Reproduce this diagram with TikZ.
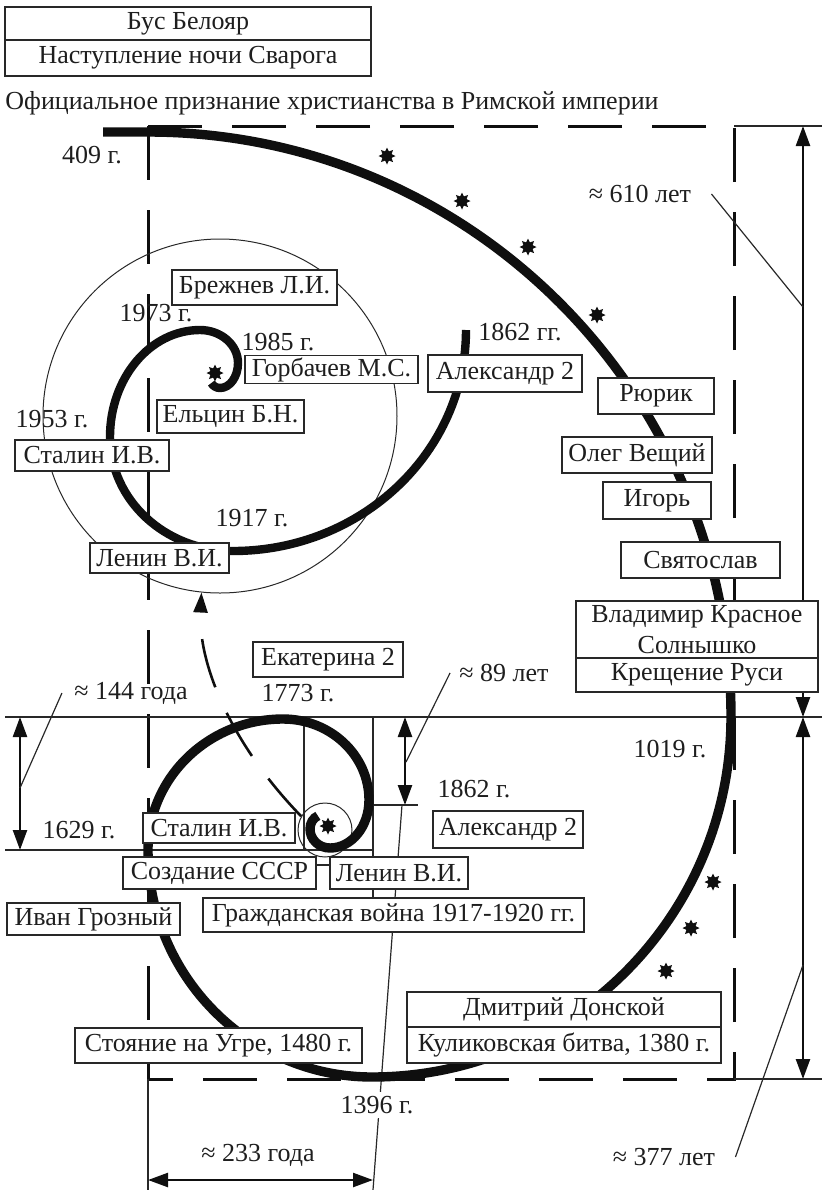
\documentclass[tikz,border=0pt]{standalone}
\usepackage{fontspec}
\setmainfont{Liberation Serif}
\usepackage{tikz}
\usetikzlibrary{
  shapes.geometric,
  arrows.meta
}
\definecolor{inkcolor}{RGB}{15, 15, 15}
\definecolor{textcolor}{RGB}{30, 30, 30}
\definecolor{guidecolor}{RGB}{40, 40, 40}
\tikzset{
labeltext/.style={
  font=\fontsize{13}{15.5}\selectfont,
  text=textcolor,
  inner sep=0pt,
  align=center
},
namebox/.style={
  draw=guidecolor,
  fill=white,
  line width=0.7pt,
  labeltext
},
spiral/.style={
  draw=inkcolor,
  line width=4.7pt
},
thinline/.style={
  draw=guidecolor,
  line width=0.6pt
},
frameline/.style={
  draw=inkcolor,
  line width=1.5pt,
  dash pattern=on 27pt off 15pt
},
dimarrow/.style={
  {Triangle[length=10pt,width=7pt]}-{Triangle[length=10pt,width=7pt]},
  draw=inkcolor,
  line width=1.2pt
},
dasharrow/.style={
  -{Triangle[length=10pt,width=7pt]},
  draw=inkcolor,
  line width=1.3pt,
  dash pattern=on 25pt off 14pt
},
starmark/.style={
  star,
  star points=8,
  star point ratio=1.7,
  fill=inkcolor,
  inner sep=0pt,
  minimum size=8.5pt
}
}

\begin{document}
\begin{tikzpicture}[x=0.5pt, y=-0.5pt]
  \useasboundingbox (0,0) rectangle (822,1190);

  \draw[frameline] (148,126) rectangle (734,1079);
  \draw[thinline] (734,126) -- (822,126);
  \draw[thinline] (734,1079) -- (822,1079);
  \draw[thinline] (5,717) -- (822,717);
  \draw[thinline] (5,850) -- (373,850);
  \draw[thinline] (304,717) -- (304,850);
  \draw[thinline] (373,717) -- (373,915);
  \draw[thinline] (373,805) -- (418,805);
  \draw[thinline] (148,1079) -- (148,1190);
  \draw[thinline] (402,805) -- (373,1190);

  \coordinate (t610) at (803,126);
  \coordinate (m610) at (803,717);
  \coordinate (b377) at (803,1079);
  \coordinate (t144) at (20,717);
  \coordinate (b144) at (20,850);
  \coordinate (t89) at (405,717);
  \coordinate (b89) at (405,805);
  \coordinate (l233) at (148,1180);
  \coordinate (r233) at (373,1180);
  \draw[dimarrow] (t610) -- (m610);
  \draw[dimarrow] (m610) -- (b377);
  \draw[dimarrow] (t144) -- (b144);
  \draw[dimarrow] (t89) -- (b89);
  \draw[dimarrow] (l233) -- (r233);

  \node[draw=guidecolor, line width=0.5pt, circle, minimum size=177pt, inner sep=0pt] (bigc) at (220,416) {};
  \node[draw=guidecolor, line width=0.5pt, circle, minimum size=27pt, inner sep=0pt] (smallc) at (325,830) {};

  \draw[spiral] (103,132) -- (148,132)
    arc[start angle=-90, end angle=0, x radius=583, y radius=585]
    arc[start angle=0, end angle=90, x radius=359, y radius=360]
    arc[start angle=90, end angle=180, x radius=224, y radius=227]
    arc[start angle=180, end angle=270, x radius=135, y radius=131]
    arc[start angle=270, end angle=360, x radius=86, y radius=81]
    arc[start angle=0, end angle=90, x radius=39, y radius=48]
    arc[start angle=90, end angle=180, x radius=20, y radius=19]
    arc[start angle=180, end angle=250, x radius=12, y radius=14];
  \draw[spiral, line width=4.2pt] (466,330)
    arc[start angle=0, end angle=90, x radius=233, y radius=221]
    arc[start angle=90, end angle=180, x radius=123, y radius=114]
    arc[start angle=180, end angle=270, x radius=90, y radius=107]
    arc[start angle=270, end angle=360, x radius=38, y radius=33]
    arc[start angle=0, end angle=90, x radius=18, y radius=25]
    arc[start angle=90, end angle=150, x radius=10, y radius=10];

  \draw[dasharrow] (smallc.150) .. controls (232,745) and (198,665) .. (bigc.-96);

  \foreach \p [count=\i] in {(387,156),(462,201),(528,247),(597,315),(713,882),(691,928),(666,971),(215,373),(328,826)}
    \node[starmark] (star\i) at \p {};

  \node[namebox, minimum width=183pt, minimum height=16.5pt] (bus) at (188,23.5) {Бус Белояр};
  \node[namebox, minimum width=183pt, minimum height=18pt] (night) at (188,58) {Наступление ночи Сварога};
  \node[labeltext, anchor=west] (title) at (5,103) {Официальное признание христианства в Римской империи};

  \node[namebox, minimum width=82.5pt, minimum height=17.5pt] (brezh) at (254.5,287.5) {Брежнев Л.И.};
  \node[namebox, minimum width=86.5pt, minimum height=14pt] (gorb) at (331.5,369.5) {Горбачев М.С.};
  \node[namebox, minimum width=77pt, minimum height=18.5pt] (alex1) at (505,373.5) {Александр 2};
  \node[namebox, minimum width=73.5pt, minimum height=16.5pt] (yelts) at (230.5,416.5) {Ельцин Б.Н.};
  \node[namebox, minimum width=77pt, minimum height=15.5pt] (stal1) at (92,455.5) {Сталин И.В.};
  \node[namebox, minimum width=69.5pt, minimum height=15pt] (lenin1) at (159.5,558) {Ленин В.И.};
  \node[namebox, minimum width=58pt, minimum height=18pt] (ryurik) at (656,396) {Рюрик};
  \node[namebox, minimum width=75pt, minimum height=18pt] (oleg) at (637,455) {Олег Вещий};
  \node[namebox, minimum width=54pt, minimum height=18.5pt] (igor) at (657,500.5) {Игорь};
  \node[namebox, minimum width=79.5pt, minimum height=18pt] (svyat) at (700.5,560) {Святослав};
  \node[namebox, minimum width=121pt, minimum height=28.5pt] (vlad) at (697,629.5) {Владимир Красное\\Солнышко};
  \node[namebox, minimum width=121pt, minimum height=17pt] (kresh) at (697,675) {Крещение Руси};
  \node[namebox, minimum width=75pt, minimum height=17.5pt] (ekat) at (328,659.5) {Екатерина 2};
  \node[namebox, minimum width=76pt, minimum height=15pt] (stal2) at (219,828) {Сталин И.В.};
  \node[namebox, minimum width=96.5pt, minimum height=16pt] (ussr) at (219.5,873) {Создание СССР};
  \node[namebox, minimum width=69pt, minimum height=16pt] (lenin2) at (399,873) {Ленин В.И.};
  \draw[thinline] ([yshift=4pt]ussr.east) -- ([yshift=4pt]lenin2.west);
  \node[namebox, minimum width=190.5pt, minimum height=17pt] (civwar) at (393.5,915) {Гражданская война 1917-1920 гг.};
  \node[namebox, minimum width=86.5pt, minimum height=16pt] (ivan) at (93.5,919) {Иван Грозный};
  \node[namebox, minimum width=75pt, minimum height=18.5pt] (alex2) at (508,829.5) {Александр 2};
  \node[namebox, minimum width=143.5pt, minimum height=17.5pt] (ugra) at (218.5,1045.5) {Стояние на Угре, 1480 г.};
  \node[namebox, minimum width=157pt, minimum height=17.5pt] (dmitry) at (564,1009.5) {Дмитрий Донской};
  \node[namebox, minimum width=157pt, minimum height=18pt] (kulik) at (564,1045) {Куликовская битва, 1380 г.};

  \node[labeltext] (y409) at (92,155) {409 г.};
  \node[labeltext] (l610) at (640,194) {≈ 610 лет};
  \node[labeltext] (y1862a) at (520,332) {1862 гг.};
  \node[labeltext] (y1973) at (156,313) {1973 г.};
  \node[labeltext] (y1985) at (278,342) {1985 г.};
  \node[labeltext] (y1953) at (52,419) {1953 г.};
  \node[labeltext] (y1917) at (252,518) {1917 г.};
  \node[labeltext] (y1773) at (298,693) {1773 г.};
  \node[labeltext] (l144) at (131,693) {≈ 144 года};
  \node[labeltext] (l89) at (504,673) {≈ 89 лет};
  \node[labeltext] (y1862b) at (474,789) {1862 г.};
  \node[labeltext] (y1019) at (670,749) {1019 г.};
  \node[labeltext] (y1629) at (79,830) {1629 г.};
  \node[labeltext, fill=white, inner sep=2pt] (y1396) at (377,1105) {1396 г.};
  \node[labeltext] (l233) at (258,1155) {≈ 233 года};
  \node[labeltext] (l377) at (664,1157) {≈ 377 лет};

  \coordinate (k144) at (20,788);
  \coordinate (k89) at (406,762);
  \coordinate (k610) at (803,307);
  \coordinate (k377) at (803,965);
  \draw[thinline] ([xshift=-6pt]l144.west) -- (k144);
  \draw[thinline] ([xshift=-4.5pt]l89.west) -- (k89);
  \draw[thinline] ([xshift=10pt]l610.east) -- (k610);
  \draw[thinline] ([xshift=10pt]l377.east) -- (k377);
\end{tikzpicture}
\end{document}
